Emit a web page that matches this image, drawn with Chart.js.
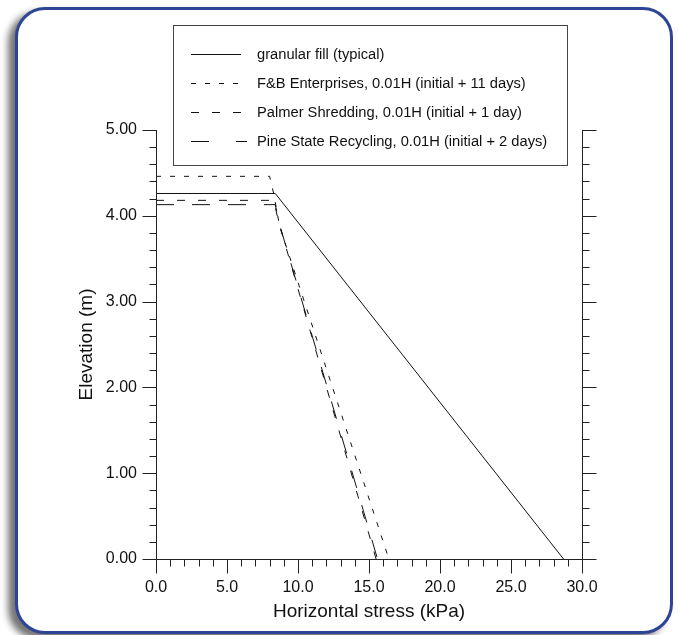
<!DOCTYPE html>
<html>
<head>
<meta charset="utf-8">
<script src="https://cdn.jsdelivr.net/npm/chart.js@4.4.1/dist/chart.umd.min.js"></script>
<style>
  body { margin: 0; background: #fff; }
  #wrap { position: relative; width: 678px; height: 635px; overflow: hidden; }
  #frame {
    position: absolute; left: 15px; top: 7px; width: 652px; height: 621px;
    border: 3px solid #2d4594; border-radius: 30px; background: #fff;
    box-shadow: -7px 5px 7px rgba(0, 0, 0, 0.55);
  }
  #myChart { position: absolute; left: 0; top: 0; }
</style>
</head>
<body>
<div id="wrap">
  <div id="frame"></div>
  <canvas id="myChart" width="678" height="635"></canvas>
</div>
<script>
// series names, as in the legend
const seriesNames = [
    'granular fill (typical)',
    'F&B Enterprises, 0.01H (initial + 11 days)',
    'Palmer Shredding, 0.01H (initial + 1 day)',
    'Pine State Recycling, 0.01H (initial + 2 days)'
];

// horizontal stress (kPa) / elevation (m)
const granularX = [0.0, 8.4, 28.7];
const granularY = [4.26, 4.26, 0.0];

const fbX = [0.0, 8.0, 8.3, 8.7, 16.4];
const fbY = [4.46, 4.46, 4.25, 3.88, 0.0];

const palmerX = [0.0, 8.3, 8.6, 15.5];
const palmerY = [4.18, 4.18, 3.95, 0.0];

const pineX = [0.0, 8.4, 8.7, 15.6];
const pineY = [4.13, 4.13, 3.90, 0.0];

const xTickLabels = ['0.0', '5.0', '10.0', '15.0', '20.0', '25.0', '30.0'];
const yTickLabels = ['0.00', '1.00', '2.00', '3.00', '4.00', '5.00'];

// dash patterns: in the plot and in the legend samples
const plotDashes = [[], [5, 9], [8, 13], [18, 18]];
const legendDashes = [[], [5, 9], [8, 13], [18, 27]];
const sampleEnd = [241, 241, 241, 247];
const ink = '#111';

function toPoints(xs, ys) {
    return xs.map((v, i) => ({ x: v, y: ys[i] }));
}

// axis lines and tick marks (major long, minor short), all outward
const axesPlugin = {
    id: 'axes',
    afterDraw(chart) {
        const { ctx, chartArea: a, scales: { x, y } } = chart;
        const L = Math.round(a.left) + 0.5, R = Math.round(a.right) + 0.5, B = Math.round(a.bottom) + 0.5;
        ctx.save();
        ctx.strokeStyle = '#222';
        ctx.lineWidth = 1;
        ctx.beginPath();
        ctx.moveTo(L, a.top); ctx.lineTo(L, B);
        ctx.moveTo(R, a.top); ctx.lineTo(R, B);
        ctx.moveTo(L, B); ctx.lineTo(R, B);
        for (let v = 0; v <= 30; v += 1) {
            const px = Math.round(x.getPixelForValue(v)) + 0.5;
            const len = v % 5 === 0 ? 14 : 7;
            ctx.moveTo(px, B); ctx.lineTo(px, B + len);
        }
        for (let k = 0; k <= 25; k++) {
            const v = k * 0.2;
            const py = Math.round(y.getPixelForValue(v)) + 0.5;
            const len = k % 5 === 0 ? 14 : 7;
            ctx.moveTo(L, py); ctx.lineTo(L - len, py);
            ctx.moveTo(R, py); ctx.lineTo(R + len, py);
        }
        ctx.stroke();
        ctx.restore();
    }
};

// boxed legend above the plot
const legendPlugin = {
    id: 'boxLegend',
    afterDraw(chart) {
        const ctx = chart.ctx;
        ctx.save();
        ctx.fillStyle = '#fff';
        ctx.fillRect(173, 25, 394, 140);
        ctx.strokeStyle = '#444';
        ctx.lineWidth = 1;
        ctx.strokeRect(173.5, 25.5, 394, 140);
        ctx.font = '14.7px "Liberation Sans", Arial, sans-serif';
        ctx.textBaseline = 'middle';
        ctx.fillStyle = ink;
        seriesNames.forEach((name, i) => {
            const yy = 54.5 + i * 29;
            ctx.strokeStyle = ink;
            ctx.setLineDash(legendDashes[i]);
            ctx.beginPath();
            ctx.moveTo(191, yy); ctx.lineTo(sampleEnd[i], yy);
            ctx.stroke();
            ctx.setLineDash([]);
            ctx.fillText(name, 257, yy);
        });
        ctx.restore();
    }
};

const allX = [granularX, fbX, palmerX, pineX];
const allY = [granularY, fbY, palmerY, pineY];

new Chart('myChart', {
    type: 'scatter',
    data: {
        datasets: seriesNames.map((name, i) => ({
            label: name,
            data: toPoints(allX[i], allY[i]),
            showLine: true,
            borderColor: ink,
            borderWidth: 1,
            borderDash: plotDashes[i],
            pointRadius: 0,
            fill: false
        }))
    },
    options: {
        responsive: false,
        animation: false,
        layout: { padding: { left: 0, top: 130, right: 96, bottom: 0 } },
        plugins: { legend: { display: false }, tooltip: { enabled: false } },
        scales: {
            x: {
                type: 'linear', min: 0, max: 30,
                grid: { display: false, drawTicks: false },
                border: { display: false },
                ticks: {
                    stepSize: 5, padding: 19, color: ink,
                    font: { family: '"Liberation Sans", Arial, sans-serif', size: 16 },
                    callback: v => xTickLabels[v / 5]
                },
                title: {
                    display: true, text: 'Horizontal stress (kPa)', color: ink,
                    font: { family: '"Liberation Sans", Arial, sans-serif', size: 19 },
                    padding: { top: 0, bottom: 12 }
                },
                afterFit: s => { s.height = 76; }
            },
            y: {
                type: 'linear', min: 0, max: 5,
                grid: { display: false, drawTicks: false },
                border: { display: false },
                ticks: {
                    stepSize: 1, padding: 19, color: ink,
                    font: { family: '"Liberation Sans", Arial, sans-serif', size: 16 },
                    callback: v => yTickLabels[v]
                },
                title: {
                    display: true, text: 'Elevation (m)', color: ink,
                    font: { family: '"Liberation Sans", Arial, sans-serif', size: 19 },
                    padding: { top: 75, bottom: 0 }
                },
                afterFit: s => { s.width = 156; }
            }
        }
    },
    plugins: [axesPlugin, legendPlugin]
});
</script>
</body>
</html>
